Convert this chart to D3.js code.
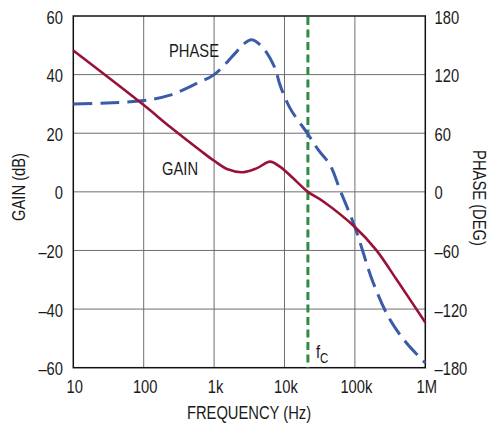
<!DOCTYPE html>
<html>
<head>
<meta charset="utf-8">
<script src="https://cdn.jsdelivr.net/npm/d3@7"></script>
<style>
  body { margin: 0; background: #fff; }
  svg text { font-family: "Liberation Sans", Arial, sans-serif; fill: #1a1a1a; }
</style>
</head>
<body>
<div id="chart"></div>
<script>
// values
const gainFreq = [10, 100, 236, 630, 1000, 1600, 2570, 4000, 6220, 8600, 14900, 21500, 35600, 100000, 200000, 393000, 1000000];
const gainDb = [48.2, 29.6, 22.2, 14.2, 10.6, 7.6, 6.7, 8.0, 10.3, 8.6, 3.5, 0, -3.3, -12, -19.8, -30, -44.6];

const phaseFreq = [10, 30, 100, 236, 566, 1000, 2000, 2600, 3420, 5000, 7330, 8630, 11970, 21100, 30200, 44300, 61400, 100000, 182000, 316000, 545000, 1000000];
const phaseDeg = [90, 91, 93.4, 99, 111, 120, 142, 151, 155.7, 147, 126.6, 109.5, 85.7, 60, 43, 27.6, 2, -36, -93, -131, -155, -175];

const crossoverFreq = 21500;

const freqTicks = [10, 100, 1000, 10000, 100000, 1000000];
const freqLabels = ["10", "100", "1k", "10k", "100k", "1M"];
const gainTicks = [60, 40, 20, 0, -20, -40, -60];
const phaseTicks = [180, 120, 60, 0, -60, -120, -180];

const W = 490, H = 424;
const plotL = 73.3, plotR = 425.3, plotT = 16, plotB = 367.7;
const narrow = 0.82; // squeeze text to look like the condensed face of the original

const svg = d3.select("#chart").append("svg")
    .attr("width", W)
    .attr("height", H);

const x = d3.scaleLog().domain([10, 1e6]).range([plotL, plotR]);
const yGain = d3.scaleLinear().domain([-60, 60]).range([plotB, plotT]);
const yPhase = d3.scaleLinear().domain([-180, 180]).range([plotB, plotT]);

const fmt = v => v < 0 ? "\u2013" + Math.abs(v) : String(v);

// put a condensed text at (tx, ty), optional rotation
function label(sel, tx, ty, rot) {
    return sel.attr("transform", "translate(" + tx + "," + ty + ")" + (rot ? " rotate(" + rot + ")" : "") + " scale(" + narrow + ",1)")
        .attr("font-size", 18);
}

// grid
const grid = svg.append("g").attr("stroke", "#6e6e6e").attr("stroke-width", 1);
grid.selectAll("line.v").data(freqTicks.slice(1, -1)).join("line")
    .attr("class", "v")
    .attr("x1", d => x(d)).attr("x2", d => x(d))
    .attr("y1", plotT).attr("y2", plotB);
grid.selectAll("line.h").data(gainTicks.slice(1, -1)).join("line")
    .attr("class", "h")
    .attr("x1", plotL).attr("x2", plotR)
    .attr("y1", d => yGain(d)).attr("y2", d => yGain(d));

// frame
svg.append("rect")
    .attr("x", plotL).attr("y", plotT)
    .attr("width", plotR - plotL).attr("height", plotB - plotT)
    .attr("fill", "none").attr("stroke", "#111").attr("stroke-width", 1.5);

// tick labels
svg.append("g").selectAll("text").data(gainTicks).join("text")
    .each(function (d) { label(d3.select(this), 63, yGain(d) + 7.5); })
    .attr("text-anchor", "end")
    .text(fmt);

svg.append("g").selectAll("text").data(phaseTicks).join("text")
    .each(function (d) { label(d3.select(this), 434.5, yPhase(d) + 7.5); })
    .attr("text-anchor", "start")
    .text(fmt);

svg.append("g").selectAll("text").data(freqTicks).join("text")
    .each(function (d) { label(d3.select(this), x(d) + 1.5, 393); })
    .attr("text-anchor", "middle")
    .text((d, i) => freqLabels[i]);

// axis titles
label(svg.append("text"), 25, 187, -90)
    .attr("text-anchor", "middle")
    .text("GAIN (dB)");

label(svg.append("text"), 473, 198, 90)
    .attr("text-anchor", "middle")
    .text("PHASE (DEG)");

label(svg.append("text"), 249, 419)
    .attr("text-anchor", "middle")
    .text("FREQUENCY (Hz)");

// crossover marker
svg.append("line")
    .attr("x1", x(crossoverFreq)).attr("x2", x(crossoverFreq))
    .attr("y1", plotT + 1).attr("y2", plotB)
    .attr("stroke", "#2f8c47").attr("stroke-width", 3)
    .attr("stroke-dasharray", "8,4.5");

const fc = label(svg.append("text"), x(crossoverFreq) + 8, 358);
fc.append("tspan").text("f");
fc.append("tspan").attr("font-size", 14).attr("dy", 5).text("C");

// curves
const gainLine = d3.line()
    .x(d => x(d[0])).y(d => yGain(d[1]))
    .curve(d3.curveCatmullRom.alpha(0.5));
const phaseLine = d3.line()
    .x(d => x(d[0])).y(d => yPhase(d[1]))
    .curve(d3.curveCatmullRom.alpha(0.5));

svg.append("path")
    .datum(phaseFreq.map((f, i) => [f, phaseDeg[i]]))
    .attr("d", phaseLine)
    .attr("fill", "none").attr("stroke", "#3a5ba8")
    .attr("stroke-width", 3).attr("stroke-dasharray", "19,8");

svg.append("path")
    .datum(gainFreq.map((f, i) => [f, gainDb[i]]))
    .attr("d", gainLine)
    .attr("fill", "none").attr("stroke", "#981237")
    .attr("stroke-width", 2.6);

// series labels
label(svg.append("text"), 169, 57).text("PHASE");
label(svg.append("text"), 162, 175).text("GAIN");
</script>
</body>
</html>
